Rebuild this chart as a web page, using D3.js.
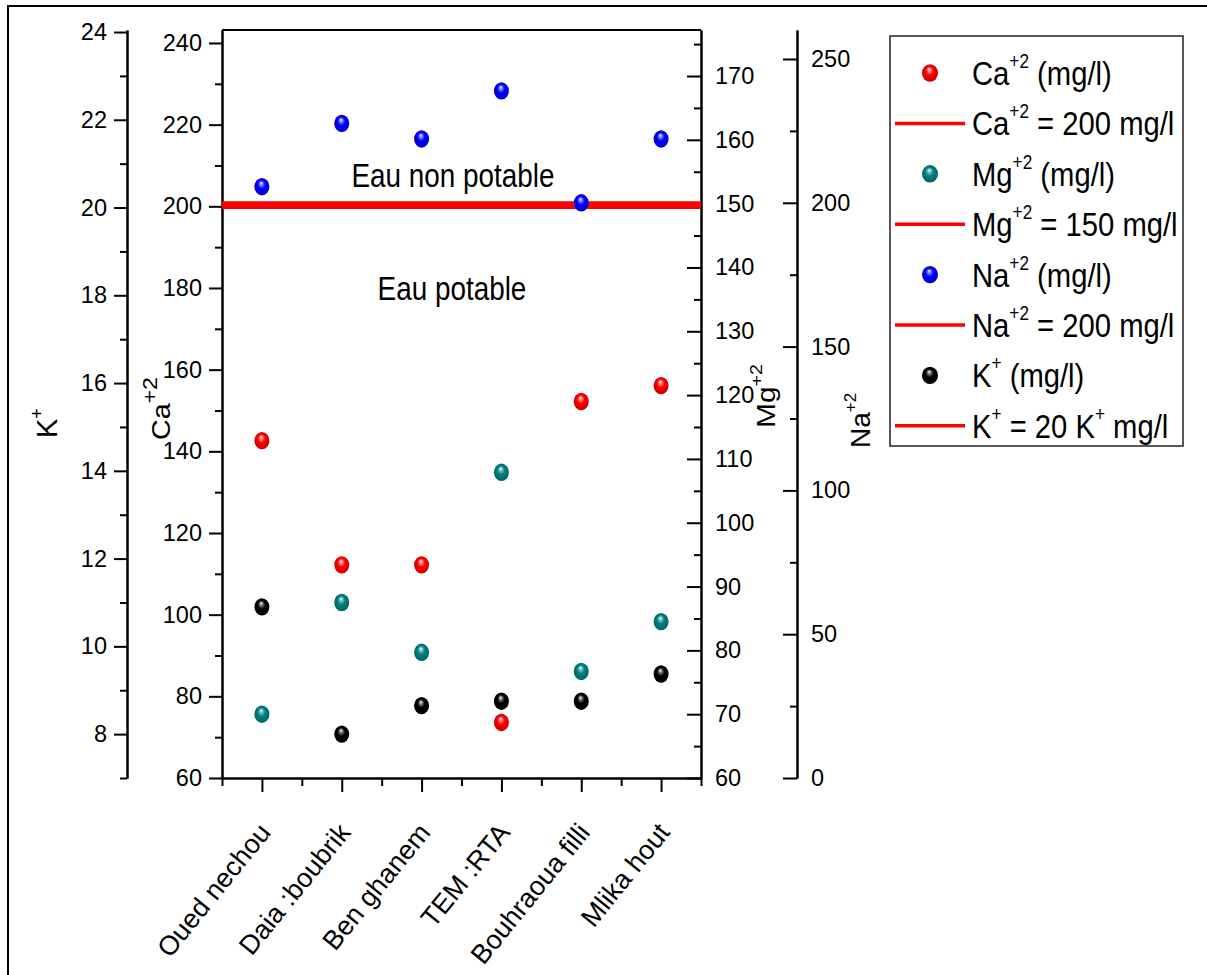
<!DOCTYPE html>
<html><head><meta charset="utf-8">
<script src="https://cdn.jsdelivr.net/npm/d3@7/dist/d3.min.js"></script>
<style>
html,body{margin:0;padding:0;background:#fff;}
svg{display:block;font-family:'Liberation Sans',Arial,sans-serif;}
text{white-space:pre;}
</style></head>
<body>
<svg id="chart" width="1207" height="975"></svg>
<script>
// ---- data ----
const categories = ["Oued nechou","Daia :boubrik","Ben ghanem","TEM :RTA","Bouhraoua filli","Mlika hout"];
const caValues = [142.6,112.2,112.2,73.6,152.2,156.1];
const mgValues = [70.0,87.5,79.7,107.9,76.7,84.5];
const naValues = [205.6,227.6,222.2,238.9,200.0,222.2];
const kValues  = [10.9,8.0,8.65,8.75,8.75,9.37];
const caLimit = 200, mgLimit = 150, naLimit = 200, kLimit = 20;
const kTicks  = [8,10,12,14,16,18,20,22,24];
const kMinor  = [7,9,11,13,15,17,19,21,23];
const caTicks = [60,80,100,120,140,160,180,200,220,240];
const caMinor = [70,90,110,130,150,170,190,210,230];
const mgTicks = [60,70,80,90,100,110,120,130,140,150,160,170];
const mgMinor = [65,75,85,95,105,115,125,135,145,155,165,175];
const naTicks = [0,50,100,150,200,250];
const naMinor = [25,75,125,175,225];
const legendLabels = [
  ["Ca","+2"," (mg/l)"],["Ca","+2"," = 200 mg/l"],
  ["Mg","+2"," (mg/l)"],["Mg","+2"," = 150 mg/l"],
  ["Na","+2"," (mg/l)"],["Na","+2"," = 200 mg/l"],
  ["K","+"," (mg/l)"],["K","+"," = 20 K","+"," mg/l"]
];

const svg = d3.select("#chart");
const plotTop = 30, plotBottom = 778;
const x = d3.scaleLinear().domain([-0.5,5.5]).range([222,701]);
const yCa = d3.scaleLinear().domain([60,243.18]).range([plotBottom,plotTop]);
const yK  = d3.scaleLinear().domain([7,24.046]).range([plotBottom,plotTop]);
const yMg = d3.scaleLinear().domain([60,177.21]).range([plotBottom,plotTop]);
const yNa = d3.scaleLinear().domain([0,260.08]).range([plotBottom,plotTop]);

// defs: sphere gradients
const defs = svg.append("defs");
const colors = {ca:"#ff0000", mg:"#008080", na:"#0000ff", k:"#000000"};
Object.entries(colors).forEach(([key,c])=>{
  const g = defs.append("radialGradient").attr("id","g_"+key)
    .attr("cx","50%").attr("cy","50%").attr("r","55%").attr("fx","45%").attr("fy","28%");
  g.append("stop").attr("offset","0%").attr("stop-color","#ffffff");
  g.append("stop").attr("offset","18%").attr("stop-color",d3.interpolateRgb("#ffffff",c)(0.5));
  g.append("stop").attr("offset","45%").attr("stop-color",c);
  g.append("stop").attr("offset","100%").attr("stop-color",d3.color(c).darker(0.8));
});

// outer frame
svg.append("rect").attr("x",8).attr("y",6).attr("width",1212).attr("height",1000)
  .attr("fill","none").attr("stroke","#000").attr("stroke-width",2);

function styleAxis(g){
  g.selectAll("path,line").attr("stroke","#000").attr("stroke-width",2);
  g.selectAll("text").attr("font-size",23.5).attr("fill","#000").attr("font-family","'Liberation Sans',Arial,sans-serif");
}
function yAxis(scale, xpos, major, minor, side){
  let a, m;
  if(side==="left"){
    a = d3.axisLeft(scale).tickValues(major).tickSize(13).tickPadding(7).tickSizeOuter(0);
    m = d3.axisLeft(scale).tickValues(minor).tickSize(7).tickFormat("").tickSizeOuter(0);
  } else {
    a = d3.axisRight(scale).tickValues(major).tickSize(-14).tickPadding(14).tickSizeOuter(0);
    m = d3.axisRight(scale).tickValues(minor).tickSize(-7).tickFormat("").tickSizeOuter(0);
  }
  const g1 = svg.append("g").attr("transform",`translate(${xpos},0)`).call(a); styleAxis(g1);
  const g2 = svg.append("g").attr("transform",`translate(${xpos},0)`).call(m); styleAxis(g2);
}
yAxis(yK, 127, kTicks, kMinor, "left");
yAxis(yCa, 222, caTicks, caMinor, "left");
yAxis(yMg, 701, mgTicks, mgMinor, "right");
yAxis(yNa, 797, naTicks, naMinor, "right");

// plot box top line
svg.append("line").attr("x1",x(-0.5)).attr("x2",x(5.5)).attr("y1",plotTop).attr("y2",plotTop)
  .attr("stroke","#000").attr("stroke-width",2);

// bottom axis
const xb = svg.append("g").attr("transform",`translate(0,${plotBottom})`)
  .call(d3.axisBottom(x).tickValues(d3.range(categories.length)).tickSize(14).tickFormat("").tickSizeOuter(0));
styleAxis(xb);
const xm = svg.append("g").attr("transform",`translate(0,${plotBottom})`)
  .call(d3.axisBottom(x).tickValues(d3.range(-0.5,categories.length,1)).tickSize(8).tickFormat("").tickSizeOuter(0));
styleAxis(xm);
svg.append("g").selectAll("text").data(categories).join("text")
  .attr("transform",(d,i)=>`translate(${x(i)+10},833) rotate(-51)`)
  .attr("text-anchor","end").attr("font-size",27).attr("fill","#000").text(d=>d);

// threshold lines
const limits = [[yNa,naLimit],[yMg,mgLimit],[yCa,caLimit],[yK,kLimit]];
svg.append("g").selectAll("line").data(limits).join("line")
  .attr("x1",x(-0.5)).attr("x2",x(5.5))
  .attr("y1",d=>d[0](d[1])).attr("y2",d=>d[0](d[1]))
  .attr("stroke","#ff0000").attr("stroke-width",3);

// annotations
function narrowText(px, py, str, size, scale, anchor){
  svg.append("g").attr("transform",`translate(${px},${py}) scale(${scale},1)`)
    .append("text").attr("text-anchor",anchor).attr("font-size",size).attr("fill","#000").text(str);
}
narrowText(453,187,"Eau non potable",34,0.82,"middle");
narrowText(452,300,"Eau potable",34,0.82,"middle");

// points
function drawSeries(vals, yscale, key){
  svg.append("g").selectAll("ellipse").data(vals).join("ellipse")
    .attr("cx",(d,i)=>x(i)).attr("cy",d=>yscale(d))
    .attr("rx",7.5).attr("ry",8.7).attr("fill",`url(#g_${key})`);
}
drawSeries(naValues, yNa, "na");
drawSeries(caValues, yCa, "ca");
drawSeries(mgValues, yMg, "mg");
drawSeries(kValues, yK, "k");

// axis titles
function axisTitle(px, py, parts, size, supSize, stretch){
  const t = svg.append("g").attr("transform",`translate(${px},${py}) rotate(-90) scale(${stretch},1)`)
    .append("text").attr("font-size",size).attr("fill","#000");
  t.append("tspan").text(parts[0]);
  t.append("tspan").attr("font-size",supSize).attr("dy",-size*0.5).text(parts[1]);
}
axisTitle(57,438,["K","+"],29,18,1.0);
axisTitle(170,440,["Ca","+2"],26,21,1.1);
axisTitle(775,428,["Mg","+2"],26,17,1.15);
axisTitle(870,448,["Na","+2"],28,17,1.0);

// legend
const lg = svg.append("g");
lg.append("rect").attr("x",890).attr("y",36).attr("width",293).attr("height",410)
  .attr("fill","#fff").attr("stroke","#222").attr("stroke-width",1.5);
const legendKeys = ["ca","ca","mg","mg","na","na","k","k"];
legendLabels.forEach((parts,i)=>{
  const cy = 73 + i*50.4;
  if(i%2===0){
    lg.append("ellipse").attr("cx",930).attr("cy",cy).attr("rx",8).attr("ry",8.7)
      .attr("fill",`url(#g_${legendKeys[i]})`);
  } else {
    lg.append("line").attr("x1",895).attr("x2",965).attr("y1",cy).attr("y2",cy)
      .attr("stroke","#ff0000").attr("stroke-width",3.5);
  }
  const t = lg.append("g").attr("transform",`translate(972,${cy+12}) scale(0.86,1)`)
    .append("text").attr("font-size",34).attr("fill","#000");
  let up = false;
  parts.forEach((p,j)=>{
    const isSup = (j%2===1);
    const ts = t.append("tspan").text(p);
    if(isSup){ ts.attr("font-size",20).attr("dy",-17); up = true; }
    else if(up){ ts.attr("dy",17); up = false; }
  });
});
</script>
</body></html>
